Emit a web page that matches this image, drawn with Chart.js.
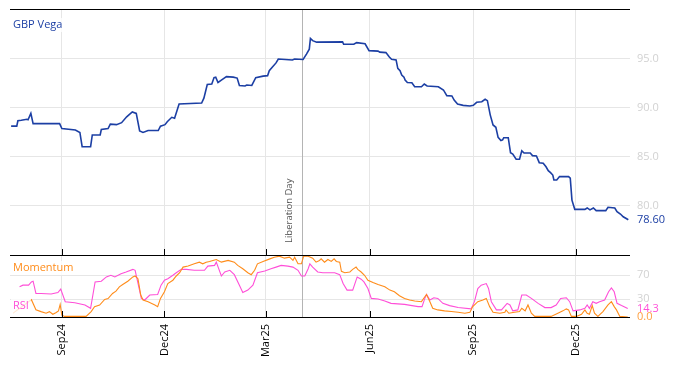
<!DOCTYPE html>
<html lang="en">
<head>
<meta charset="UTF-8" />
<title>GBP Vega</title>
<script src="https://cdn.jsdelivr.net/npm/chart.js"></script>
<style>
  *{margin:0;padding:0;box-sizing:border-box}
  html,body{width:674px;height:366px;background:#fff;overflow:hidden}
</style>
</head>
<body>
<canvas id="vegaChart" width="674" height="366"></canvas>
<script>
// x values are days counted from 1 Sep 2024
const tickDays = [0, 91, 181, 273, 365, 456];
const tickLabels = ['Sep24', 'Dec24', 'Mar25', 'Jun25', 'Sep25', 'Dec25'];
const eventDay = 213;
const eventLabel = 'Liberation Day';

const vegaTicks = [80, 85, 90, 95];
const oscTicks = [30, 70];

const vegaDay = [
  -45, -40, -39, -36, -31, -30, -27.5, -25.5, -2, 0,
  12, 16, 18, 25.5, 27, 34, 35, 41, 43, 48.5,
  53, 57.5, 62.5, 66, 69, 72, 76.5, 85.5, 87.5, 91.5,
  93.5, 97.5, 100, 104, 124, 126, 129, 133, 135, 136.5,
  138.5, 141.5, 146, 152, 155.5, 157.5, 162.5, 164, 168.5, 172,
  178.5, 182.5, 184, 187, 190, 192, 204.5, 206.5, 214, 217,
  219.5, 220.5, 222.5, 226, 249, 250, 259, 261.5, 269, 272.5,
  280.5, 282, 287.5, 290.5, 292.5, 296.5, 298, 300, 301.5, 303.5,
  304.5, 306.5, 310.5, 313, 319, 321.5, 324, 334, 338.5, 341.5,
  346, 348, 351, 356, 362, 365, 368, 372.5, 375.5, 377.5,
  380, 382.5, 385, 387, 389.5, 391, 392, 396, 398, 400,
  403, 406, 408, 410, 415.5, 417.5, 421, 423.5, 427, 429.5,
  431.5, 433.5, 435.5, 436.5, 439, 441.5, 449.5, 451, 452.5, 455,
  464, 466, 468.5, 471.5, 474, 482.5, 484.5, 490.5, 492.5, 495.5,
  498, 502.5
];
const vegaVal = [
  88.15, 88.15, 88.7, 88.75, 88.85, 88.8, 89.45, 88.4, 88.4, 87.9,
  87.75, 87.5, 86.05, 86.05, 87.25, 87.25, 87.8, 87.9, 88.35, 88.3,
  88.5, 89.1, 89.6, 89.45, 87.65, 87.5, 87.7, 87.7, 88.15, 88.3,
  88.6, 89.05, 88.95, 90.4, 90.5, 91.0, 92.4, 92.45, 93.1, 93.15,
  92.6, 92.85, 93.2, 93.15, 93.05, 92.3, 92.25, 92.35, 92.3, 93.1,
  93.25, 93.3, 93.8, 94.2, 94.6, 95.0, 94.9, 95.0, 94.95, 95.5,
  96.0, 97.1, 96.87, 96.72, 96.75, 96.5, 96.5, 96.67, 96.55, 95.85,
  95.8, 95.7, 95.65, 95.2, 94.97, 94.9, 94.05, 93.8, 93.37, 93.15,
  92.86, 92.6, 92.58, 92.17, 92.17, 92.45, 92.25, 92.17, 91.84, 91.26,
  91.23, 90.8, 90.4, 90.27, 90.2, 90.27, 90.58, 90.64, 90.89, 90.75,
  89.3, 88.27, 88.03, 87.0, 86.67, 86.75, 86.97, 86.97, 85.44, 85.3,
  84.77, 84.77, 85.64, 85.4, 85.4, 85.14, 85.1, 84.42, 84.36, 84.0,
  83.6, 83.4, 83.16, 82.65, 82.65, 83.0, 83.0, 82.85, 80.6, 79.66,
  79.66, 79.8, 79.6, 79.8, 79.53, 79.53, 79.87, 79.8, 79.43, 79.18,
  78.9, 78.6
];

const momDay = [
  -43, -37, -31, -27, -23, -18.5, -14, -11, -8, -5,
  -3, -1.5, 0, 2.5, 21.5, 26, 29, 33.5, 38, 41,
  45, 48, 51, 54, 58.5, 63, 65, 67.5, 70, 72,
  76.5, 82.5, 85, 87.5, 91, 94, 98.5, 101.5, 104.5, 107.5,
  112, 117.5, 122, 125, 128, 131, 134, 137, 141.5, 147.5,
  153, 156, 160.5, 165, 168, 171, 173.5, 178.5, 184.5, 188.5,
  193, 197.5, 202, 205, 206.5, 209.5, 212.5, 214.5, 218.5, 222.5,
  225.5, 228.5, 230, 233, 236, 239, 241.5, 243.5, 246.5, 248,
  251, 255.5, 258, 261, 262.5, 265.5, 268.5, 271.5, 276, 280.5,
  286.5, 291, 295, 299.5, 304, 308.5, 313, 319, 322, 323.5,
  326.5, 329, 333.5, 339.5, 345.5, 351.5, 357.5, 362, 364.5, 369,
  373.5, 376.5, 379.5, 382.5, 388.5, 393, 394, 396.5, 401.5, 406,
  408, 411, 413.5, 416.5, 419.5, 434, 440, 444.5, 447.5, 449.5,
  452, 456.5, 461, 464, 466, 468, 470.5, 472.5, 475.5, 480,
  484.5, 487.5, 490, 492, 495, 502
];
const momVal = [
  7, 15, 23.5, 29, 12, 9, 6.3, 9, 4.6, 7.5,
  10.3, 21, 3, 1, 1, 9, 17.4, 20, 29.5, 31,
  39.5, 43.4, 50.6, 54.4, 60, 67.2, 68.8, 64.3, 36.8, 28.5,
  25.7, 20.2, 17.4, 31.2, 42.3, 56.1, 61.7, 68.8, 74.3, 83.7,
  85.4, 89.2, 92, 89.2, 92, 93.2, 94.9, 96.5, 92, 94.9,
  92, 86.6, 81, 74.3, 71, 78.3, 89.2, 93.2, 97.5, 100.3,
  102, 98.7, 100.3, 94.9, 100.3, 89.2, 89.2, 102, 102, 98.7,
  92, 94.9, 97.5, 92, 96.5, 93.2, 97.5, 93.2, 92, 76.6,
  74.3, 75.5, 79.9, 83.7, 79.9, 75.5, 70, 61.7, 57.7, 54.4,
  50.6, 45.1, 42.3, 35.7, 31.2, 28.5, 26.9, 25.7, 34, 37.8,
  25.7, 14.6, 11.9, 10.3, 9.1, 8, 6.3, 8, 17.4, 25.7,
  28.5, 31.2, 17.4, 8, 6.3, 8, 11.9, 6.3, 8, 9.1,
  14.6, 10.3, 20.2, 6.3, 1, 1, 6.3, 10.3, 13.6, 11.9,
  1, 1, 4.6, 11.9, 6.3, 4.6, 19.1, 6.3, 1, 9.1,
  20.2, 25.7, 17.4, 11.9, 1, 0
];

const rsiDay = [
  -37.5, -34.5, -29.5, -27, -25.5, -23, -18.5, -9.5, -3.5, -1,
  3, 11.5, 20.5, 25.5, 29.5, 35, 39.5, 43.5, 47, 52.5,
  57, 63, 65, 70.5, 73.5, 78, 85, 88, 91, 94,
  98.5, 101.5, 106, 110.5, 117.5, 126.5, 129.5, 135.5, 137, 141.5,
  144.5, 149, 153, 157.5, 160.5, 165, 169.5, 173.5, 180, 185.5,
  190, 194.5, 200.5, 205, 209.5, 212.5, 215.5, 218.5, 220, 222.5,
  227, 231.5, 242, 246.5, 249.5, 253, 258, 260.5, 262, 265.5,
  268, 271.5, 274.5, 280.5, 286.5, 292, 304, 316, 319.5, 322,
  323.5, 326.5, 330, 333.5, 338, 344, 351.5, 363, 366, 369,
  372, 376.5, 378.5, 381, 385.5, 390, 395, 397.5, 400, 404.5,
  408, 412, 416.5, 422.5, 428.5, 434, 438.5, 442.5, 447.5, 450.5,
  453.5, 459.5, 464, 466, 468, 471, 474, 477, 481.5, 485,
  487.5, 490, 492.5, 496.5, 502
];
const rsiVal = [
  50.6, 53.4, 53.4, 58.9, 60, 39.5, 39.5, 38.5, 41.1, 46.8,
  25.7, 24, 20.2, 14.6, 58.9, 60, 67.2, 70, 67.2, 72.6,
  75.5, 79.9, 78.3, 31.2, 28.5, 36.8, 37.8, 53.4, 61.7, 64.3,
  70, 74.3, 79.9, 79.9, 78.3, 78.3, 85.4, 86.6, 92, 68.8,
  75.5, 78.3, 71, 53.4, 41.1, 45.1, 53.4, 74.3, 77.1, 81,
  83.7, 86.6, 85.4, 83.7, 78.3, 68.8, 68.8, 81, 89.2, 83.7,
  75.5, 74.3, 74.3, 71, 56.1, 45.1, 45.1, 58.9, 67.2, 63.4,
  58.9, 47.8, 31.2, 30.2, 26.9, 22.9, 21.2, 17.4, 17.4, 31.2,
  37.8, 28.5, 32.3, 31.2, 22.9, 19.1, 15.8, 13.6, 25.7, 47.8,
  53.4, 56.1, 47.8, 25.7, 11.9, 11.9, 22.9, 20.2, 10.3, 11.9,
  36.8, 36.8, 31.2, 22.9, 15.8, 15.8, 20.2, 31.2, 32.3, 25.7,
  10.3, 11.9, 14.6, 20.2, 14.6, 25.7, 22.9, 25.7, 28.5, 42.3,
  48.9, 42.3, 22.9, 19.1, 14.3
];

const vegaColor = '#1c3fa4';
const momColor = '#ff8c1a';
const rsiColor = '#ff4fd8';
const FONT = "'Open Sans', 'Noto Sans', sans-serif";

const toPoints = (xs, ys) => xs.map((x, i) => ({ x, y: ys[i] }));

function textBox(ctx, txt, x, y, color) {
  const w = ctx.measureText(txt).width;
  ctx.fillStyle = 'rgba(255,255,255,0.8)';
  ctx.fillRect(x - 2, y - 7, w + 4, 14);
  ctx.fillStyle = color;
  ctx.fillText(txt, x, y);
}

// the y axes should not push the plot area away with label padding
function noPad(s) {
  s.paddingTop = 0; s.paddingBottom = 0; s.paddingLeft = 0; s.paddingRight = 0;
}

const overlay = {
  id: 'overlay',
  beforeDatasetsDraw(chart) {
    const { ctx, chartArea: a, scales: { x, y } } = chart;
    const px = Math.round(x.getPixelForValue(eventDay)) + 0.5;
    ctx.save();
    ctx.strokeStyle = '#b4b4b4';
    ctx.lineWidth = 1;
    ctx.beginPath(); ctx.moveTo(px, a.top); ctx.lineTo(px, a.bottom); ctx.stroke();
    ctx.translate(px - 13, y.bottom - 12);
    ctx.rotate(-Math.PI / 2);
    ctx.font = '9.5px ' + FONT;
    ctx.fillStyle = '#555';
    ctx.textAlign = 'left';
    ctx.textBaseline = 'middle';
    ctx.fillText(eventLabel, 0, 0);
    ctx.restore();
  },
  afterDatasetsDraw(chart) {
    const { ctx, chartArea: a, scales: { x, y, y2 } } = chart;
    ctx.save();
    // panel borders + inner ticks
    ctx.strokeStyle = '#000';
    ctx.lineWidth = 1;
    ctx.beginPath();
    [a.top, y.bottom, a.bottom].forEach(v => {
      const yy = Math.round(v) + 0.5;
      ctx.moveTo(a.left, yy); ctx.lineTo(a.right, yy);
    });
    tickDays.forEach(d => {
      const px = Math.round(x.getPixelForValue(d)) + 0.5;
      ctx.moveTo(px, y.bottom - 6); ctx.lineTo(px, y.bottom);
      ctx.moveTo(px, a.bottom - 6); ctx.lineTo(px, a.bottom);
    });
    ctx.stroke();

    // panel names
    ctx.font = '11px ' + FONT;
    ctx.textAlign = 'left';
    ctx.textBaseline = 'middle';
    textBox(ctx, 'GBP Vega', 13, 25, vegaColor);
    textBox(ctx, 'Momentum', 13, 268, momColor);
    textBox(ctx, 'RSI', 13, 306, rsiColor);

    // last values on the right
    const lx = a.right + 7;
    const lastVega = vegaVal[vegaVal.length - 1];
    const lastRsi = rsiVal[rsiVal.length - 1];
    const lastMom = momVal[momVal.length - 1];
    ctx.fillStyle = vegaColor;
    ctx.fillText(lastVega.toFixed(2), lx, y.getPixelForValue(lastVega));
    ctx.fillStyle = rsiColor;
    ctx.fillText(lastRsi.toFixed(1), lx, y2.getPixelForValue(lastRsi));
    ctx.fillStyle = '#ffa040';
    ctx.fillText(lastMom.toFixed(1), lx, y2.getPixelForValue(lastMom));
    ctx.restore();
  }
};

new Chart(document.getElementById('vegaChart'), {
  type: 'line',
  data: {
    datasets: [
      { label: 'GBP Vega', data: toPoints(vegaDay, vegaVal), yAxisID: 'y',
        borderColor: vegaColor, borderWidth: 1.6, pointRadius: 0, tension: 0 },
      { label: 'Momentum', data: toPoints(momDay, momVal), yAxisID: 'y2',
        borderColor: momColor, borderWidth: 1.1, pointRadius: 0, tension: 0 },
      { label: 'RSI', data: toPoints(rsiDay, rsiVal), yAxisID: 'y2',
        borderColor: rsiColor, borderWidth: 1.1, pointRadius: 0, tension: 0 }
    ]
  },
  options: {
    responsive: false,
    animation: false,
    devicePixelRatio: 1,
    layout: { padding: { left: 10, top: 9, right: 0, bottom: 0 } },
    plugins: { legend: { display: false }, tooltip: { enabled: false } },
    scales: {
      x: {
        type: 'linear', min: -46, max: 504,
        afterBuildTicks: s => { s.ticks = tickDays.map(v => ({ value: v })); },
        afterFit: s => { s.height = 49; noPad(s); },
        ticks: {
          callback: v => tickLabels[tickDays.indexOf(v)],
          autoSkip: false, minRotation: 90, maxRotation: 90,
          color: '#000', font: { family: FONT, size: 11 }, padding: 7
        },
        grid: { color: '#e6e6e6', drawTicks: false },
        border: { display: false }
      },
      y: {
        position: 'right', stack: 'panels', stackWeight: 246,
        min: 75, max: 100.1,
        afterBuildTicks: s => { s.ticks = vegaTicks.map(v => ({ value: v })); },
        afterFit: s => { s.width = 44; noPad(s); },
        ticks: { callback: v => v.toFixed(1), color: '#d2d2d2',
                 font: { family: FONT, size: 11 }, padding: 7 },
        grid: { color: '#e6e6e6', drawTicks: false },
        border: { display: false }
      },
      y2: {
        position: 'right', stack: 'panels', stackWeight: 62,
        min: 0, max: 104,
        afterBuildTicks: s => { s.ticks = oscTicks.map(v => ({ value: v })); },
        afterFit: s => { s.width = 44; noPad(s); },
        ticks: { callback: v => String(v), color: '#d2d2d2',
                 font: { family: FONT, size: 11 }, padding: 7 },
        grid: { color: '#e6e6e6', drawTicks: false },
        border: { display: false }
      }
    }
  },
  plugins: [overlay]
});
</script>
</body>
</html>
